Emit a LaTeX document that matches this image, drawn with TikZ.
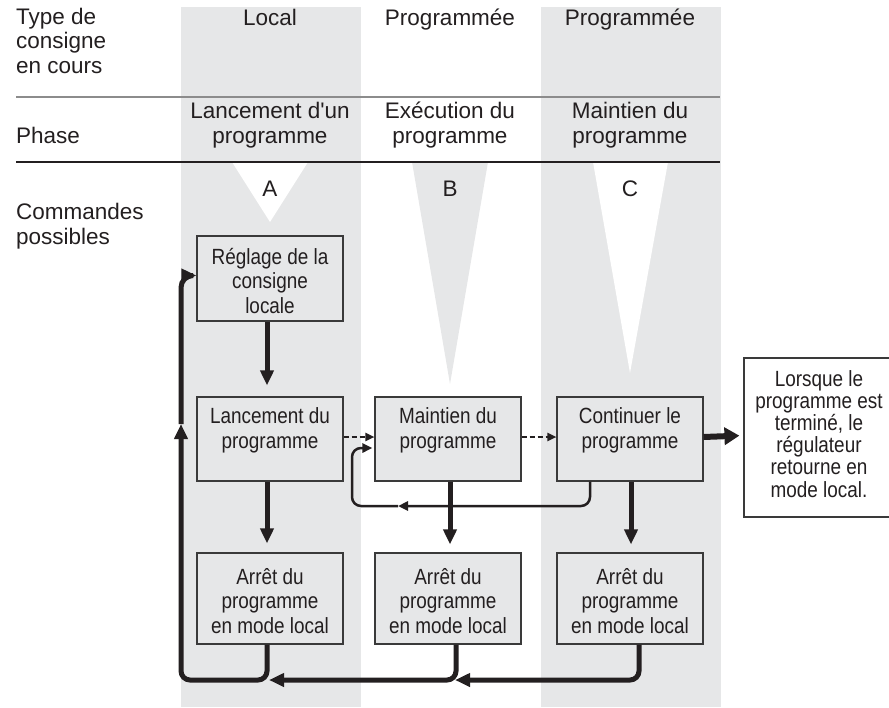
\documentclass[tikz,border=0pt]{standalone}
\usepackage{fontspec}
\setmainfont{Liberation Sans}[Ligatures=TeXOff]
\newfontfamily\narrow{Liberation Sans}[FakeStretch=0.86]
\usetikzlibrary{arrows.meta}
\definecolor{colgray}{HTML}{E6E7E8}
\definecolor{ink}{HTML}{231F20}
\definecolor{boxline}{HTML}{3A3A3A}
\definecolor{rulegray}{HTML}{8C8C8C}
\begin{document}
\begin{tikzpicture}[x=1pt,y=-1pt,
  hdr/.style={font=\fontsize{22.5}{24.3}\selectfont, text=ink, inner sep=0pt, align=center, anchor=base},
  hdrleft/.style={hdr, align=left, anchor=base west},
  box/.style={draw=boxline, line width=1.1pt, fill=colgray, minimum width=146pt, inner sep=0pt, align=center, text=ink, font=\narrow\fontsize{22}{24.3}\selectfont},
  twoline/.style={text height=51pt, text depth=33pt},
  threeline/.style={text height=80pt, text depth=11pt},
  big/.style={draw=ink, line width=5pt, -{Triangle[length=15pt,width=13pt]}},
  huge/.style={draw=ink, line width=6pt, -{Triangle[length=15pt,width=17pt]}},
  mid/.style={draw=ink, line width=2.5pt, -{Triangle[length=10pt,width=9pt]}},
  dsh/.style={draw=ink, line width=2pt, dash pattern=on 5pt off 3pt, -{Triangle[length=9pt,width=8pt]}},
]
\useasboundingbox (0,0) rectangle (889,707);
\clip (0,0) rectangle (889,707);
% columns and wedges
\fill[colgray] (181,7) rectangle (361,707);
\fill[colgray] (541,7) rectangle (721,707);
\fill[white] (232,162) -- (308,162) -- (270,222) -- cycle;
\fill[colgray] (412,162) -- (488,162) -- (450,384) -- cycle;
\fill[white] (593,162) -- (668,162) -- (630,373) -- cycle;
\draw[rulegray, line width=1.3pt] (16,97) -- (720,97);
\draw[ink, line width=1.3pt] (16,162) -- (720,162);
% header texts (base = last line)
\node[hdrleft] (t1) at (16,73) {Type de\\consigne\\en cours};
\node[hdrleft] (t2) at (16,143) {Phase};
\node[hdrleft] (t3) at (16,244) {Commandes\\possibles};
\node[hdr] (ca) at (270,25) {Local};
\node[hdr] (cb) at (450,25) {Programmée};
\node[hdr] (cc) at (630,25) {Programmée};
\node[hdr] (pa) at (270,143) {Lancement d'un\\programme};
\node[hdr] (pb) at (450,143) {Exécution du\\programme};
\node[hdr] (pc) at (630,143) {Maintien du\\programme};
\node[hdr] (la) at (270,196) {A};
\node[hdr] (lb) at (450,196) {B};
\node[hdr] (lc) at (630,196) {C};
% boxes
\node[box, text height=77pt, text depth=8pt] (reg) at (270,278.5) {Réglage de la\\consigne\\locale};
\node[box, twoline] (lan) at (270,439) {Lancement du\\programme};
\node[box, twoline] (mai) at (448,439) {Maintien du\\programme};
\node[box, twoline] (con) at (630,439) {Continuer le\\programme};
\node[box, threeline] (a1) at (270,598.5) {Arrêt du\\programme\\en mode local};
\node[box, threeline] (a2) at (448,598.5) {Arrêt du\\programme\\en mode local};
\node[box, threeline] (a3) at (630,598.5) {Arrêt du\\programme\\en mode local};
\node[box, fill=white, minimum width=150pt, text height=139pt, text depth=20pt, font=\narrow\fontsize{22}{22.2}\selectfont] (note) at (819,437.5) {Lorsque le\\programme est\\terminé, le\\régulateur\\retourne en\\mode local.};
% vertical connectors
\draw[big, shorten >=11pt] ([xshift=-3pt]reg.south) -- ([xshift=-3pt]lan.north);
\draw[big, shorten >=9pt] ([xshift=-3pt]lan.south) -- ([xshift=-3pt]a1.north);
\draw[big, shorten >=8pt] ([xshift=2pt]mai.south) -- ([xshift=2pt]a2.north);
\draw[big, shorten >=8pt] ([xshift=1pt]con.south) -- ([xshift=1pt]a3.north);
% dashed connectors
\draw[dsh] ([yshift=2pt]lan.east) -- ([yshift=2pt]mai.west);
\draw[dsh] ([yshift=2pt]mai.east) -- ([yshift=2pt]con.west);
\draw[huge, shorten >=4pt] ([yshift=2pt]con.east) -- ([yshift=2pt]note.west);
% loop back to Maintien
\coordinate (lm) at (398,506);
\coordinate (lx) at (352,506);
\coordinate (mwin) at ([yshift=-9pt]mai.west);
\draw[mid, rounded corners=9pt] ([xshift=-40pt]con.south) |- (lm);
\draw[mid, rounded corners=9pt, shorten >=2pt] (lm) -- (lx) |- (mwin);
% bottom return
\coordinate (j2) at (455,680);
\coordinate (j1) at (269,680);
\coordinate (up) at (181,424);
\coordinate (regin) at ([yshift=3pt]reg.west);
\draw[big, rounded corners=9pt] ([xshift=9pt]a3.south) |- (j2);
\draw[big, rounded corners=9pt] ([xshift=8pt]a2.south) |- (j1);
\draw[big, rounded corners=9pt] ([xshift=-3pt]a1.south) |- (up |- j1) -- (up);
\draw[big, rounded corners=12pt] (up) |- (regin);
\end{tikzpicture}
\end{document}
